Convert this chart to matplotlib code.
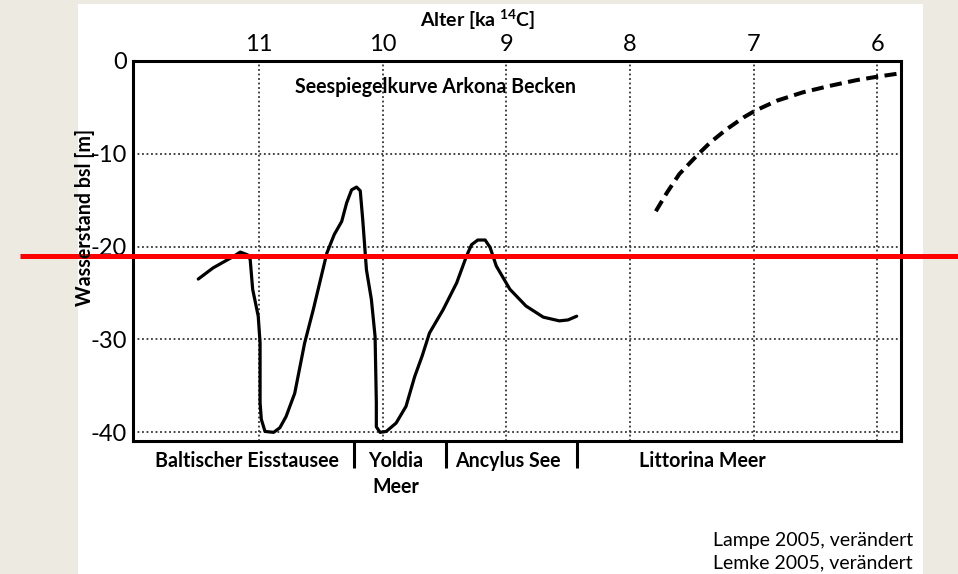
import matplotlib
matplotlib.use("Agg")
import matplotlib.pyplot as plt
from matplotlib.transforms import blended_transform_factory
from matplotlib.patches import Rectangle

# ---------------- data ----------------
solid_age = [11.49, 11.37, 11.29, 11.21, 11.15, 11.09, 11.07, 11.05, 11.005, 10.99,
             10.99, 10.98, 10.95, 10.88, 10.83, 10.78, 10.71, 10.63, 10.56, 10.45,
             10.39, 10.33, 10.29, 10.25, 10.21, 10.18, 10.16, 10.13, 10.09, 10.06,
             10.05, 10.05, 10.02, 9.97, 9.89, 9.81, 9.74, 9.68, 9.62, 9.51,
             9.40, 9.32, 9.28, 9.23, 9.17, 9.13, 9.08, 8.97, 8.84, 8.70,
             8.57, 8.50, 8.43]
solid_level = [-23.5, -22.3, -21.7, -21.1, -20.6, -20.9, -21.4, -24.6, -27.5, -30.4,
               -36.8, -38.6, -39.9, -40.0, -39.5, -38.3, -35.8, -30.4, -26.8, -20.7,
               -18.7, -17.3, -15.3, -13.9, -13.6, -14.0, -17.1, -22.5, -25.7, -29.7,
               -36.8, -39.4, -40.0, -39.9, -39.0, -37.2, -34.0, -31.8, -29.3, -26.8,
               -23.9, -21.0, -19.8, -19.3, -19.3, -20.1, -22.1, -24.6, -26.4, -27.6,
               -28.0, -27.9, -27.5]

dashed_age = [7.79, 7.70, 7.60, 7.45, 7.35, 7.22, 7.08, 6.99, 6.81, 6.60, 6.38, 6.17, 5.99, 5.81]
dashed_level = [-16.2, -14.2, -12.2, -10.1, -8.8, -7.4, -6.1, -5.4, -4.3, -3.4, -2.7, -2.1, -1.7, -1.35]

x_ticks = [11, 10, 9, 8, 7, 6]
y_ticks = [0, -10, -20, -30, -40]

period_names = ["Baltischer Eisstausee", "Yoldia\nMeer", "Ancylus See", "Littorina Meer"]
period_centers = [11.10, 9.89, 8.99, 7.41]
period_bounds = [10.23, 9.49, 8.43]

marker_level = -21.0

title = "Seespiegelkurve Arkona Becken"
xlabel = r"Alter [ka $^{\mathbf{14}}$C]"
ylabel = "Wasserstand bsl [m]"
sources = ["Lampe 2005, verändert", "Lemke 2005, verändert"]

# ---------------- style ----------------
plt.rcParams["font.family"] = ["Lato", "DejaVu Sans"]
plt.rcParams["axes.unicode_minus"] = False
plt.rcParams["mathtext.fontset"] = "custom"
plt.rcParams["mathtext.rm"] = "Lato:bold"
plt.rcParams["mathtext.bf"] = "Lato:bold"
plt.rcParams["mathtext.it"] = "Lato:bold"

W, H = 958, 574
fig = plt.figure(figsize=(W / 100, H / 100), dpi=100)
fig.patch.set_facecolor("#EDEAE1")
fig.patches.append(Rectangle((77.5 / W, 0), (922.7 - 77.5) / W, 1 - 4 / H,
                             transform=fig.transFigure, facecolor="white",
                             edgecolor="none", zorder=-10))

ax = fig.add_axes([132.7 / W, 1 - 441 / H, (900.7 - 132.7) / W, (441 - 60.7) / H])
ax.set_facecolor("white")
ax.set_xlim(12.02, 5.81)
ax.set_ylim(-40.93, 0)

for s in ax.spines.values():
    s.set_linewidth(2.2)
    s.set_color("black")

ax.set_xticks(x_ticks)
ax.set_xticklabels([str(v) for v in x_ticks])
ax.set_yticks(y_ticks)
ax.set_yticklabels([str(v) for v in y_ticks])
ax.xaxis.tick_top()
ax.tick_params(axis="both", length=0, labelsize=17, colors="black")
ax.tick_params(axis="x", pad=4)
ax.tick_params(axis="y", pad=4)

ax.grid(True, color="#333333", linestyle=(0, (1, 1.5)), linewidth=1.3)
ax.set_axisbelow(True)

ax.plot(solid_age, solid_level, color="black", linewidth=2.3,
        solid_capstyle="round", solid_joinstyle="round", zorder=3)
ax.plot(dashed_age, dashed_level, color="black", linewidth=2.9,
        linestyle=(0, (3.0, 1.6)), dash_capstyle="butt", zorder=3)

ax.text((435.5 - 132.7) / 768, 1 - (93.3 - 60.7) / 380.3, title,
        transform=ax.transAxes, ha="center", va="baseline",
        fontsize=14.1, fontweight="bold")

# period bars and labels below axis
bt = blended_transform_factory(ax.transData, ax.transAxes)
for b in period_bounds:
    ax.plot([b, b], [0, -27 / 380.3], color="black", linewidth=2.2,
            transform=bt, clip_on=False, solid_capstyle="butt")
line_step = 26.0
for name, c in zip(period_names, period_centers):
    for k, line in enumerate(name.split("\n")):
        ax.text(c, -(467.3 + k * line_step - 441) / 380.3, line, transform=bt,
                ha="center", va="baseline", fontsize=14.1, fontweight="bold")

fig.text(477.5 / W, 1 - 26.7 / H, xlabel, ha="center", va="baseline",
         fontsize=14, fontweight="bold")
fig.text(85 / W, 1 - 217.5 / H, ylabel, ha="center", va="center",
         rotation=90, fontsize=14.1, fontweight="bold")

fig.text(912.7 / W, 1 - 545.7 / H, sources[0], ha="right", va="baseline", fontsize=14)
fig.text(912.7 / W, 1 - 568.3 / H, sources[1], ha="right", va="baseline", fontsize=14)

# red marker line across the figure
rt = blended_transform_factory(fig.transFigure, ax.transData)
ax.plot([20 / W, 1.0], [marker_level, marker_level], color="#FF0000",
        linewidth=3.6, transform=rt, clip_on=False, zorder=10,
        solid_capstyle="butt")

fig.savefig("out.png", dpi=100, facecolor=fig.get_facecolor())
